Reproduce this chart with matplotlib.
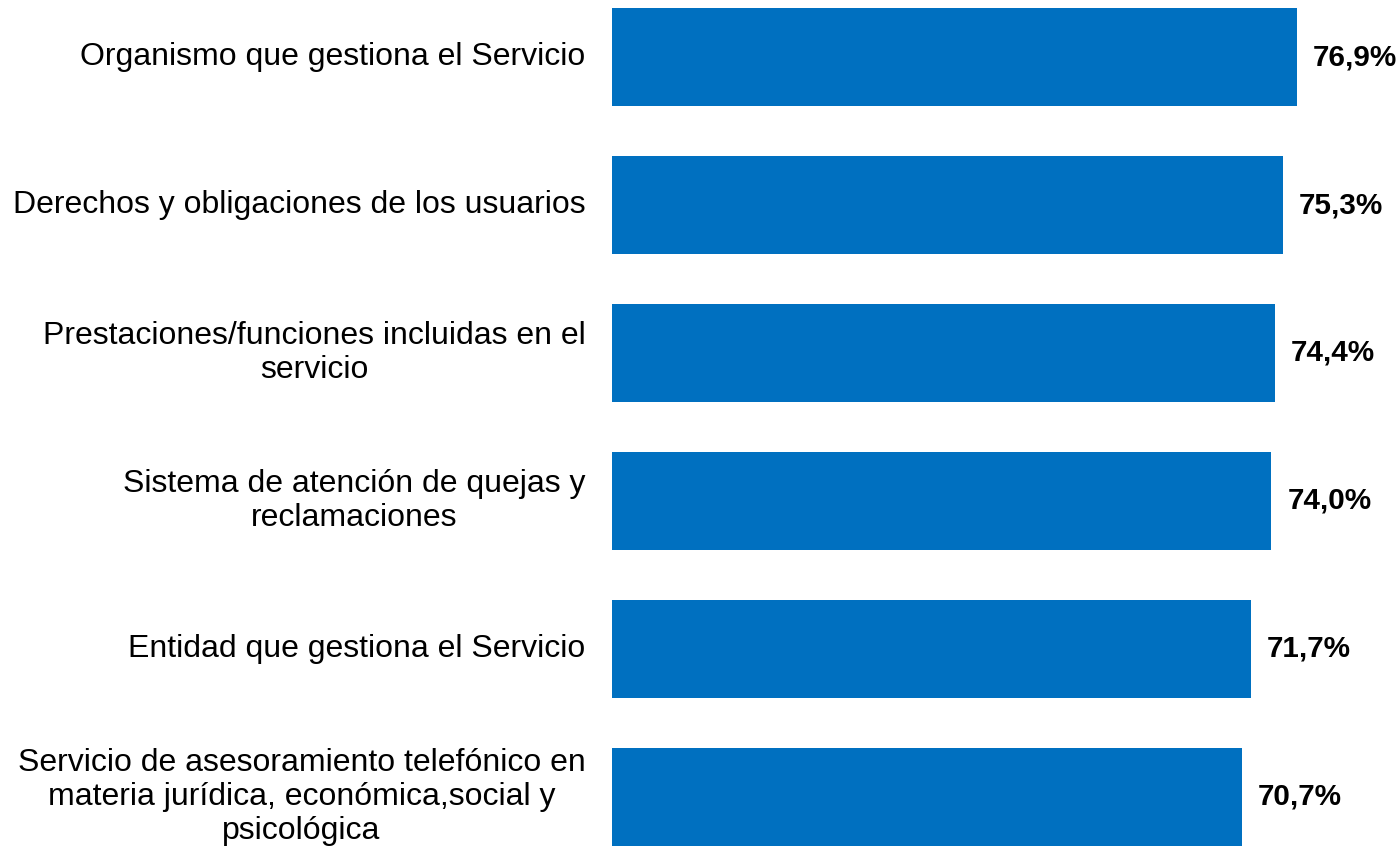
import matplotlib
matplotlib.use("Agg")
import matplotlib.pyplot as plt

plt.rcParams['font.family'] = ['Liberation Sans', 'DejaVu Sans']

# datos
categorias = [
    "Organismo que gestiona el Servicio",
    "Derechos y obligaciones de los usuarios",
    "Prestaciones/funciones incluidas en el\nservicio",
    "Sistema de atención de quejas y\nreclamaciones",
    "Entidad que gestiona el Servicio",
    "Servicio de asesoramiento telefónico en\nmateria jurídica, económica,social y\npsicológica",
]
valores = [76.9, 75.3, 74.4, 74.0, 71.7, 70.7]
etiquetas = [f"{v:.1f}%".replace(".", ",") for v in valores]

fig = plt.figure(figsize=(14, 8.52), dpi=100)
ax = fig.add_axes([612 / 1400, 0, 1 - 612 / 1400, 1])

pos = list(range(len(valores)))
barras = ax.barh(pos, valores, height=0.66, color="#0070C0")

ax.bar_label(barras, labels=etiquetas, padding=11.5, fontsize=21.3,
             fontweight="bold", color="black")

for i, cat in enumerate(categorias):
    ax.text(-3.0, i, cat, ha="right", va="center", multialignment="center",
            fontsize=23, linespacing=1.17, color="black")

ax.set_xlim(0, 788 / 8.91)
ax.set_ylim(5 + 55 / 148, -57 / 148)
ax.axis("off")

fig.savefig("out.png", dpi=100)
